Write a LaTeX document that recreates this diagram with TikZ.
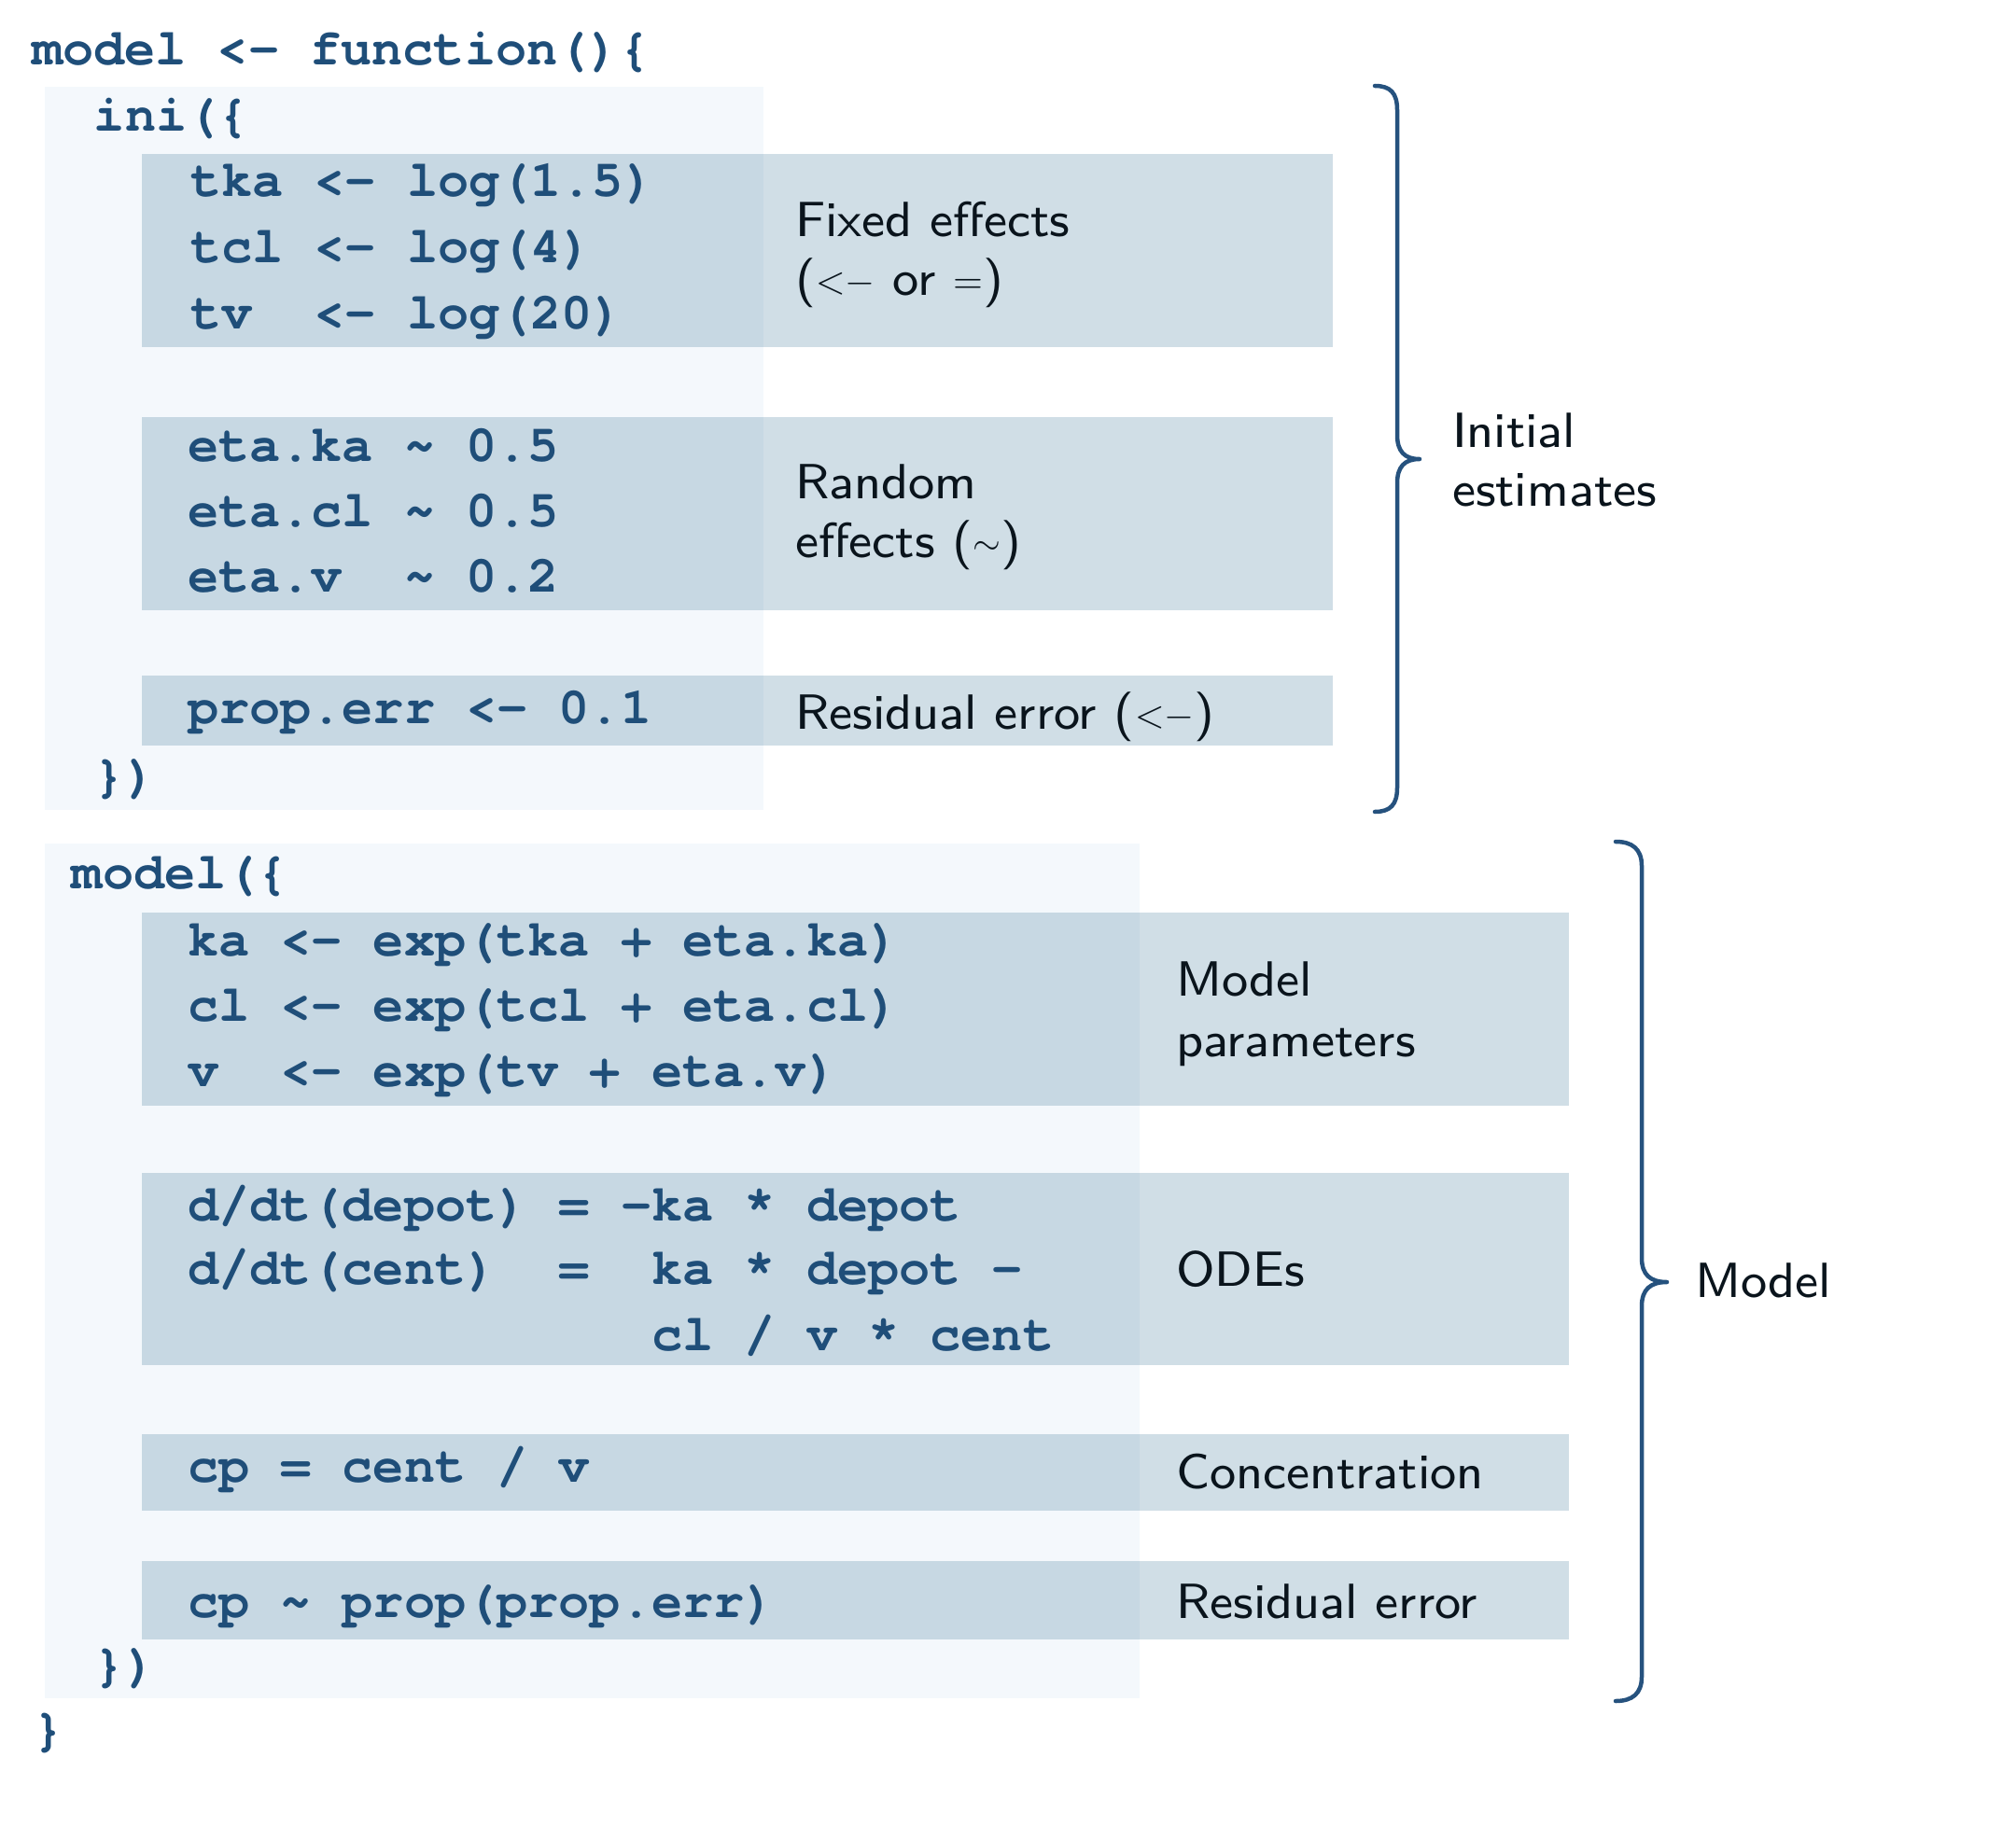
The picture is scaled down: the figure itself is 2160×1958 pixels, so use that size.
\documentclass[tikz,border=0pt]{standalone}
\usepackage{fontspec}
\usepackage{graphicx}
\setmonofont{texgyrecursor}[Extension=.otf,UprightFont=*-regular,BoldFont=*-bold]
\setsansfont{lmsans8-regular}[Extension=.otf]
\definecolor{codecol}{RGB}{31,78,121}
\definecolor{labcol}{RGB}{10,20,28}
\definecolor{bracecol}{RGB}{38,82,126}
\definecolor{panelcol}{RGB}{244,248,252}
\definecolor{bandcol}{RGB}{98,145,172}
\newcommand\codefont{\fontsize{11.05}{13}\selectfont\ttfamily\bfseries}
\newcommand\labfont{\fontsize{10.6}{13}\selectfont\sffamily}
\newcommand\smsym[2][0.75]{\raisebox{0.4pt}{\scalebox{#1}{$#2$}}}
\tikzset{
  code/.style={anchor=base west, inner sep=0pt, text=codecol, font=\codefont},
  lab/.style={anchor=base west, inner sep=0pt, text=labcol, font=\labfont},
  panel/.style={fill=panelcol, draw=none},
  band/.style={fill=bandcol, fill opacity=0.3, draw=none},
  bracecurve/.style={draw=bracecol, line width=0.9pt, line cap=round, line join=round}
}
\begin{document}
\begin{tikzpicture}[x=0.2pt,y=-0.2pt]
\useasboundingbox (0,0) rectangle (2160,1958);
% panels
\fill[panel] (48,93) rectangle (818,868);
\fill[panel] (48,904) rectangle (1221,1820);
% bands
\fill[band] (152,165) rectangle (1428,372);
\fill[band] (152,447) rectangle (1428,654);
\fill[band] (152,724) rectangle (1428,799);
\fill[band] (152,978) rectangle (1681,1185);
\fill[band] (152,1257) rectangle (1681,1463);
\fill[band] (152,1537) rectangle (1681,1619);
\fill[band] (152,1673) rectangle (1681,1757);
% code
\node[code] (c0) at (33,70) {model <- function()\{};
\node[code] (c1) at (100,141) {ini(\{};
\node[code] (c2) at (203,211) {tka <- log(1.5)};
\node[code] (c3) at (203,282) {tcl <- log(4)};
\node[code] (c4) at (203,353) {tv\ \ <- log(20)};
\node[code] (c5) at (200,494) {eta.ka \string~ 0.5};
\node[code] (c6) at (200,564) {eta.cl \string~ 0.5};
\node[code] (c7) at (200,634) {eta.v\ \ \string~ 0.2};
\node[code] (c8) at (200,775) {prop.err <- 0.1};
\node[code] (c9) at (100,848) {\})};
\node[code] (c10) at (76,952) {model(\{};
\node[code] (c11) at (200,1024) {ka <- exp(tka + eta.ka)};
\node[code] (c12) at (200,1094) {cl <- exp(tcl + eta.cl)};
\node[code] (c13) at (200,1164) {v\ \ <- exp(tv + eta.v)};
\node[code] (c14) at (200,1308) {d/dt(depot) = -ka * depot};
\node[code] (c15) at (200,1376) {d/dt(cent)\ \ =\ \ ka * depot -};
\node[code] (c16) at (200,1447) {\phantom{d/dt(cent)\ \ =\ \ }cl / v * cent};
\node[code] (c17) at (200,1588) {cp = cent / v};
\node[code] (c18) at (200,1733) {cp \string~ prop(prop.err)};
\node[code] (c19) at (100,1801) {\})};
\node[code] (c20) at (34,1870) {\}};
% labels
\node[lab] (l1) at (851,254) {Fixed effects};
\node[lab] (l2) at (851,317) {(\smsym{<}\smsym{-} or \smsym{=})};
\node[lab] (l3) at (851,534) {Random};
\node[lab] (l4) at (851,597) {effects (\smsym[0.7]{\sim})};
\node[lab] (l5) at (851,781) {Residual error (\smsym{<}\smsym{-})};
\node[lab] (l6) at (1555,479) {Initial};
\node[lab] (l7) at (1555,542) {estimates};
\node[lab] (l8) at (1259,1067) {Model};
\node[lab] (l9) at (1259,1132) {parameters};
\node[lab] (l10) at (1259,1378) {ODEs};
\node[lab] (l11) at (1259,1595) {Concentration};
\node[lab] (l12) at (1259,1734) {Residual error};
\node[lab] (l13) at (1815,1390) {Model};
% braces
\draw[bracecurve] (1473,92) .. controls (1490,92) and (1497,100) .. (1497,118)
  -- (1497,466) .. controls (1497,484) and (1505,492) .. (1521,492)
  .. controls (1505,492) and (1497,500) .. (1497,518)
  -- (1497,844) .. controls (1497,862) and (1490,870) .. (1473,870);
\draw[bracecurve] (1731,902) .. controls (1749,902) and (1759,910) .. (1759,928)
  -- (1759,1348) .. controls (1759,1366) and (1768,1374) .. (1786,1374)
  .. controls (1768,1374) and (1759,1382) .. (1759,1400)
  -- (1759,1797) .. controls (1759,1815) and (1749,1823) .. (1731,1823);
\end{tikzpicture}
\end{document}
